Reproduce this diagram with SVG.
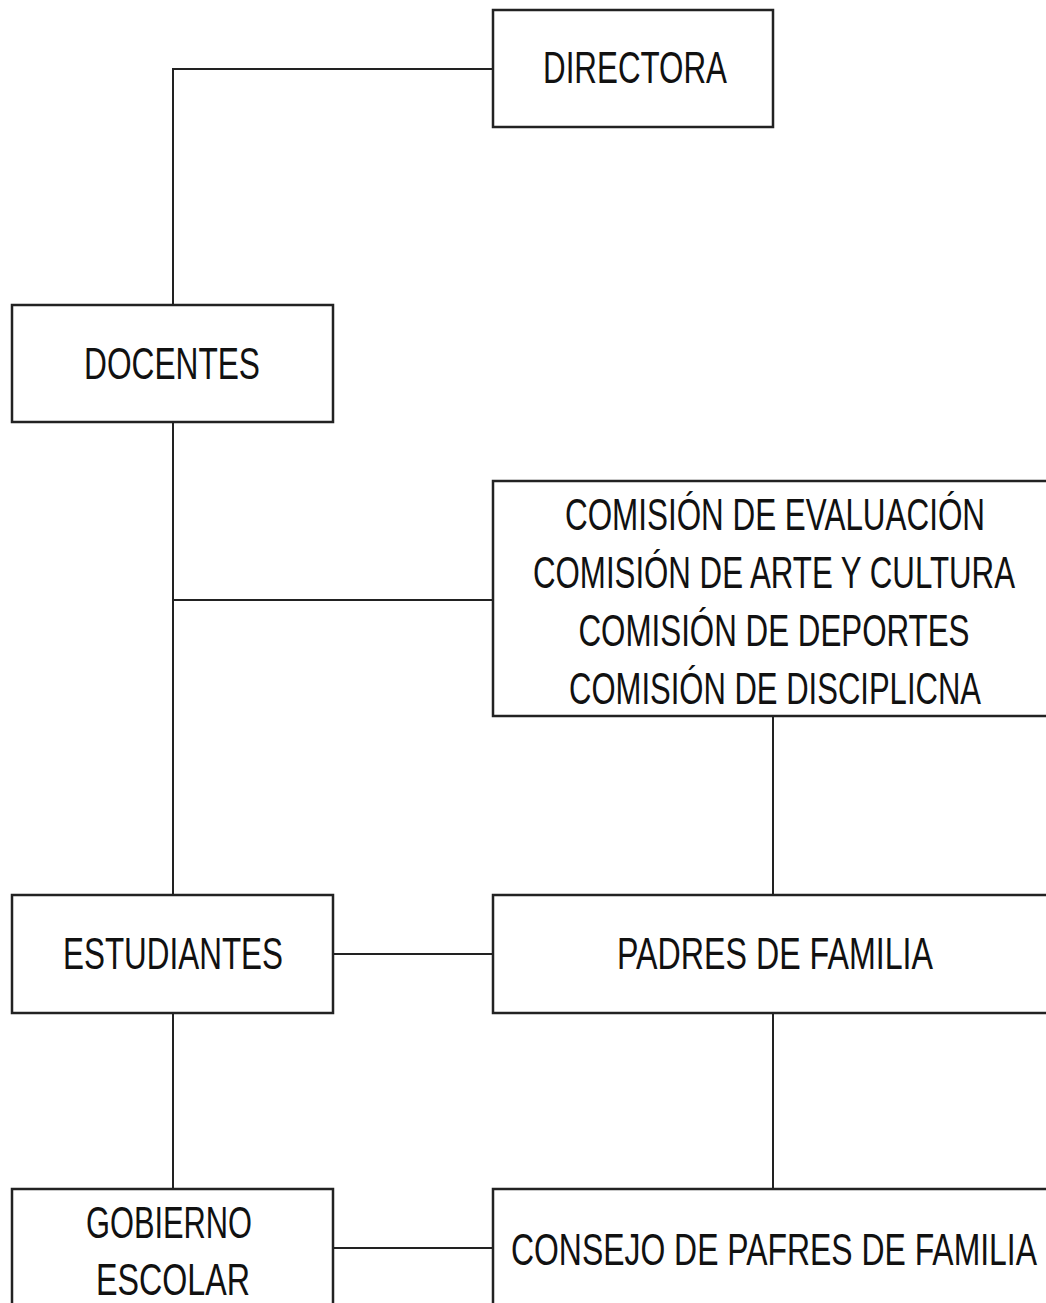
<svg xmlns="http://www.w3.org/2000/svg" width="1046" height="1303" viewBox="0 0 1046 1303">
<style>
.box{fill:#fff;stroke:#222;stroke-width:2.5}
.ln{fill:none;stroke:#222;stroke-width:2}
.t{font-family:"Liberation Sans Narrow","Liberation Sans",Arial,sans-serif;font-size:45px;fill:#111;text-anchor:middle}
</style>
<rect width="1046" height="1303" fill="#fff"/>
<g id="connectors">
<path class="ln" d="M493 69H173V305"/>
<path class="ln" d="M173 422V895"/>
<path class="ln" d="M173 600H493"/>
<path class="ln" d="M773 716V895"/>
<path class="ln" d="M333 954H493"/>
<path class="ln" d="M173 1013V1189"/>
<path class="ln" d="M773 1013V1189"/>
<path class="ln" d="M333 1248H493"/>
</g>
<g id="directora">
<rect class="box" x="493" y="10" width="280" height="117"/>
<text class="t" x="635" y="83" textLength="184" lengthAdjust="spacingAndGlyphs">DIRECTORA</text>
</g>
<g id="docentes">
<rect class="box" x="12" y="305" width="321" height="117"/>
<text class="t" x="172" y="379" textLength="176" lengthAdjust="spacingAndGlyphs">DOCENTES</text>
</g>
<g id="comisiones">
<rect class="box" x="493" y="481" width="565" height="235"/>
<text class="t" x="775" y="530" textLength="420" lengthAdjust="spacingAndGlyphs">COMISIÓN DE EVALUACIÓN</text>
<text class="t" x="774" y="588" textLength="482" lengthAdjust="spacingAndGlyphs">COMISIÓN DE ARTE Y CULTURA</text>
<text class="t" x="774" y="646" textLength="391" lengthAdjust="spacingAndGlyphs">COMISIÓN DE DEPORTES</text>
<text class="t" x="775" y="704" textLength="412" lengthAdjust="spacingAndGlyphs">COMISIÓN DE DISCIPLICNA</text>
</g>
<g id="estudiantes">
<rect class="box" x="12" y="895" width="321" height="118"/>
<text class="t" x="173" y="969" textLength="220" lengthAdjust="spacingAndGlyphs">ESTUDIANTES</text>
</g>
<g id="padres">
<rect class="box" x="493" y="895" width="565" height="118"/>
<text class="t" x="775" y="969" textLength="316" lengthAdjust="spacingAndGlyphs">PADRES DE FAMILIA</text>
</g>
<g id="gobierno">
<rect class="box" x="12" y="1189" width="321" height="130"/>
<text class="t" x="169" y="1238" textLength="166" lengthAdjust="spacingAndGlyphs">GOBIERNO</text>
<text class="t" x="173" y="1295" textLength="154" lengthAdjust="spacingAndGlyphs">ESCOLAR</text>
</g>
<g id="consejo">
<rect class="box" x="493" y="1189" width="565" height="130"/>
<text class="t" x="774" y="1265" textLength="526" lengthAdjust="spacingAndGlyphs">CONSEJO DE PAFRES DE FAMILIA</text>
</g>
</svg>
